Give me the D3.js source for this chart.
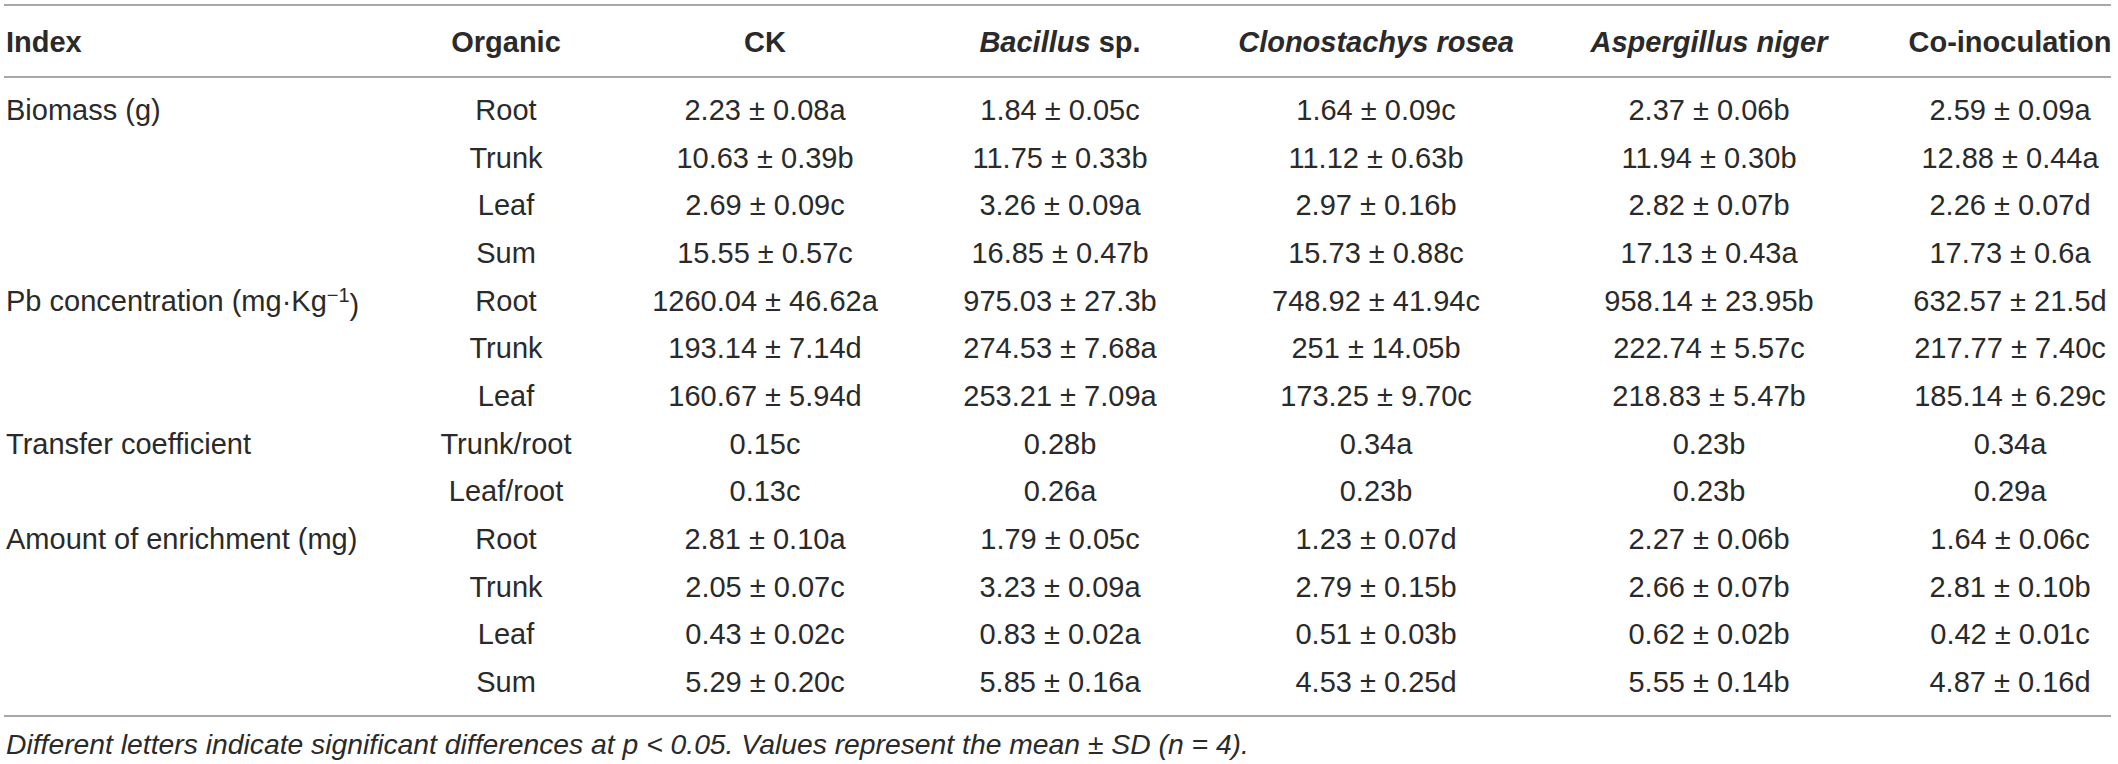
<!DOCTYPE html>
<html>
<head>
<meta charset="utf-8">
<script src="https://cdn.jsdelivr.net/npm/d3@7"></script>
<style>
  body { margin: 0; background: #fff; }
  svg text { font-family: "Liberation Sans", Arial, Helvetica, sans-serif; fill: #2a2a2a; }
</style>
</head>
<body>
<div id="table-container"></div>
<script>
// column headers (italic ones are species names)
var columns = ["Index", "Organic", "CK", "Bacillus sp.", "Clonostachys rosea", "Aspergillus niger", "Co-inoculation"];
var italicCols = ["Clonostachys rosea", "Aspergillus niger"];

// index groups and the row each one starts on
var indexLabels = ["Biomass (g)", "Pb concentration (mg·Kg", "Transfer coefficient", "Amount of enrichment (mg)"];
var indexRows = [0, 4, 7, 9];

var organs = ["Root", "Trunk", "Leaf", "Sum", "Root", "Trunk", "Leaf", "Trunk/root", "Leaf/root", "Root", "Trunk", "Leaf", "Sum"];

var ck = ["2.23 ± 0.08a", "10.63 ± 0.39b", "2.69 ± 0.09c", "15.55 ± 0.57c", "1260.04 ± 46.62a", "193.14 ± 7.14d", "160.67 ± 5.94d",
  "0.15c", "0.13c", "2.81 ± 0.10a", "2.05 ± 0.07c", "0.43 ± 0.02c", "5.29 ± 0.20c"];
var bacillus = ["1.84 ± 0.05c", "11.75 ± 0.33b", "3.26 ± 0.09a", "16.85 ± 0.47b", "975.03 ± 27.3b", "274.53 ± 7.68a", "253.21 ± 7.09a",
  "0.28b", "0.26a", "1.79 ± 0.05c", "3.23 ± 0.09a", "0.83 ± 0.02a", "5.85 ± 0.16a"];
var clonostachys = ["1.64 ± 0.09c", "11.12 ± 0.63b", "2.97 ± 0.16b", "15.73 ± 0.88c", "748.92 ± 41.94c", "251 ± 14.05b", "173.25 ± 9.70c",
  "0.34a", "0.23b", "1.23 ± 0.07d", "2.79 ± 0.15b", "0.51 ± 0.03b", "4.53 ± 0.25d"];
var aspergillus = ["2.37 ± 0.06b", "11.94 ± 0.30b", "2.82 ± 0.07b", "17.13 ± 0.43a", "958.14 ± 23.95b", "222.74 ± 5.57c", "218.83 ± 5.47b",
  "0.23b", "0.23b", "2.27 ± 0.06b", "2.66 ± 0.07b", "0.62 ± 0.02b", "5.55 ± 0.14b"];
var coinoc = ["2.59 ± 0.09a", "12.88 ± 0.44a", "2.26 ± 0.07d", "17.73 ± 0.6a", "632.57 ± 21.5d", "217.77 ± 7.40c", "185.14 ± 6.29c",
  "0.34a", "0.29a", "1.64 ± 0.06c", "2.81 ± 0.10b", "0.42 ± 0.01c", "4.87 ± 0.16d"];

var footnote = "Different letters indicate significant differences at p < 0.05. Values represent the mean ± SD (n = 4).";

var width = 2118, height = 764;
var fontSize = 29;

var svg = d3.select("#table-container")
  .append("svg")
  .attr("width", width)
  .attr("height", height);

svg.append("rect").attr("width", width).attr("height", height).attr("fill", "#fff");

// column centres (Index is left aligned)
var x = d3.scaleOrdinal()
  .domain(columns)
  .range([6, 506, 765, 1060, 1376, 1709, 2010]);

// row positions
var y = d3.scaleLinear()
  .domain([0, organs.length - 1])
  .range([110, 682]);

var headerY = 42;

// horizontal rules
var rules = [5, 77, 716];
svg.selectAll(".rule")
  .data(rules)
  .enter()
  .append("line")
  .attr("class", "rule")
  .attr("x1", 4)
  .attr("x2", 2111)
  .attr("y1", d => d)
  .attr("y2", d => d)
  .attr("stroke", "#a8a8a8")
  .attr("stroke-width", 2);

// header
var header = svg.selectAll(".header")
  .data(columns)
  .enter()
  .append("text")
  .attr("class", "header")
  .attr("x", d => x(d))
  .attr("y", headerY)
  .attr("dy", "0.35em")
  .attr("text-anchor", d => d === "Index" ? "start" : "middle")
  .style("font-size", fontSize + "px")
  .style("font-weight", "bold");

header.each(function(d) {
  var t = d3.select(this);
  if (d === "Bacillus sp.") {
    t.append("tspan").style("font-style", "italic").text("Bacillus");
    t.append("tspan").text(" sp.");
  } else {
    t.text(d).style("font-style", italicCols.includes(d) ? "italic" : "normal");
  }
});

// index column
var idx = svg.selectAll(".index")
  .data(indexLabels)
  .enter()
  .append("text")
  .attr("class", "index")
  .attr("x", x("Index"))
  .attr("y", (d, i) => y(indexRows[i]))
  .attr("dy", "0.35em")
  .style("font-size", fontSize + "px")
  .text(d => d);

// superscript -1 for the Pb concentration unit
idx.filter((d, i) => i === 1)
  .call(function(t) {
    t.append("tspan").attr("dy", "-0.45em").style("font-size", "20px").text("−1");
    t.append("tspan").attr("dy", "0.45em").text(")");
  });

// organ column
svg.selectAll(".organ")
  .data(organs)
  .enter()
  .append("text")
  .attr("class", "organ")
  .attr("x", x("Organic"))
  .attr("y", (d, i) => y(i))
  .attr("dy", "0.35em")
  .attr("text-anchor", "middle")
  .style("font-size", fontSize + "px")
  .text(d => d);

// value columns
var series = [
  { col: "CK", values: ck },
  { col: "Bacillus sp.", values: bacillus },
  { col: "Clonostachys rosea", values: clonostachys },
  { col: "Aspergillus niger", values: aspergillus },
  { col: "Co-inoculation", values: coinoc }
];

series.forEach(function(s) {
  svg.selectAll(".cell-" + columns.indexOf(s.col))
    .data(s.values)
    .enter()
    .append("text")
    .attr("class", "cell-" + columns.indexOf(s.col))
    .attr("x", x(s.col))
    .attr("y", (d, i) => y(i))
    .attr("dy", "0.35em")
    .attr("text-anchor", "middle")
    .style("font-size", fontSize + "px")
    .text(d => d);
});

// footnote
svg.append("text")
  .attr("x", 6)
  .attr("y", 744)
  .attr("dy", "0.35em")
  .style("font-size", "28.3px")
  .style("font-style", "italic")
  .text(footnote);
</script>
</body>
</html>
